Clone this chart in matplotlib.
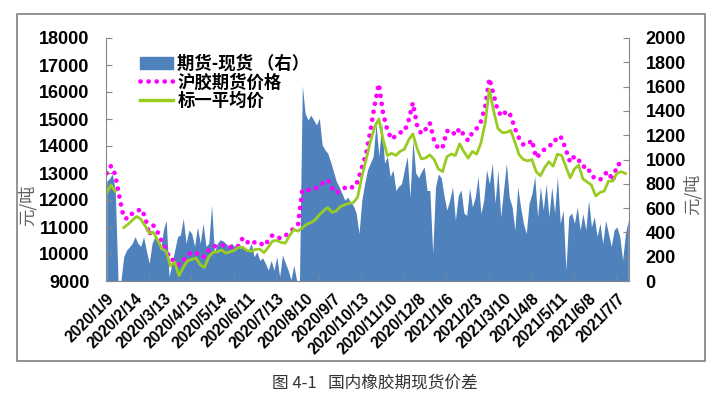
import numpy as np
import matplotlib
matplotlib.use('Agg')
import matplotlib.pyplot as plt
from matplotlib.patches import Patch, Rectangle
from matplotlib.lines import Line2D

# futures - spot spread (right axis), one value every 2 trading days
spread = [820, 845, 880, 750, 0, 0, 200, 255, 280, 310, 365, 310,
          285, 365, 250, 145, 310, 365, 330, 255, 420, 500, 35, 145,
          255, 365, 380, 515, 310, 420, 390, 285, 445, 310, 475, 285,
          310, 625, 230, 310, 340, 330, 310, 285, 310, 285, 310, 270,
          285, 260, 255, 310, 200, 240, 170, 190, 145, 90, 170, 90,
          200, 35, 215, 150, 90, 10, 130, 5, 0, 1610, 1380, 1325,
          1365, 1325, 1285, 1340, 1120, 1080, 1050, 980, 900, 820, 775, 720,
          665, 690, 650, 620, 560, 390, 665, 800, 915, 970, 1025, 1300,
          1025, 1300, 970, 1025, 860, 915, 745, 780, 800, 915, 1025, 690,
          1160, 890, 850, 900, 940, 745, 745, 230, 775, 880, 850, 700,
          585, 665, 775, 500, 700, 750, 560, 540, 765, 610, 690, 860,
          555, 665, 915, 800, 970, 640, 915, 530, 750, 970, 690, 610,
          420, 775, 610, 475, 390, 640, 720, 860, 530, 775, 585, 800,
          530, 775, 560, 860, 475, 585, 90, 530, 560, 475, 610, 420,
          555, 420, 665, 445, 530, 365, 475, 310, 500, 390, 285, 420,
          445, 365, 170, 390, 500]

# 沪胶期货价格, one value every 3 trading days
futures = [12990, 13260, 12950, 12100, 11350, 11300, 11500, 11560, 11670, 11400,
           10700, 11050, 10800, 10450, 10150, 9780, 9780, 9600, 9750, 9950,
           10070, 10050, 9900, 9900, 10150, 10280, 10300, 10320, 10320, 10270,
           10220, 10300, 10600, 10450, 10350, 10460, 10420, 10300, 10500, 10700,
           10620, 10580, 10680, 10800, 10950, 11100, 12370, 12370, 12370, 12420,
           12500, 12650, 12750, 12450, 12250, 12370, 12450, 12520, 12450, 12680,
           13200, 13700, 14550, 15500, 16300, 15200, 14590, 14250, 14380, 14500,
           14530, 14950, 15600, 14750, 14450, 14620, 14850, 14200, 13900, 13950,
           14550, 14590, 14400, 14650, 14400, 14200, 14500, 14650, 14900, 15450,
           16500, 15900, 15280, 15100, 15300, 15130, 14650, 14280, 14050, 14050,
           14220, 13560, 13720, 13880, 14020, 14050, 14360, 14300, 13850, 13400,
           13620, 13480, 13230, 13250, 12900, 12790, 12740, 12950, 13050, 12700,
           13300, 13360, 13300]

# 标一平均价, same sampling (nan = no spot quote over the holiday)
spot = [12250, 12560, 12320, np.nan, 10980, 11100, 11250, 11390, 11300, 11050,
        10780, 10800, 10500, 10200, 10090, 9560, 9700, 9200, 9500, 9750,
        9800, 9850, 9600, 9500, 9900, 10060, 10080, 10150, 10030, 10080,
        10130, 10250, 10250, 10130, 10100, 10170, 10180, 10050, 10250, 10480,
        10500, 10430, 10400, 10680, 10900, 10850, 10970, 11100, 11160, 11260,
        11450, 11600, 11720, 11540, 11600, 11760, 11820, 11880, 11900, 12100,
        12860, 13500, 14150, 14700, 15000, 14250, 13650, 13730, 13650, 13800,
        13880, 14220, 14450, 13900, 13520, 13560, 13670, 13500, 13150, 13050,
        13600, 13700, 13650, 14080, 13790, 13550, 13800, 13700, 14100, 14850,
        16100, 15300, 14650, 14500, 14500, 14580, 14150, 13670, 13500, 13450,
        13500, 13050, 12900, 13200, 13420, 13250, 13700, 13650, 13230, 12820,
        13150, 13290, 12780, 12670, 12550, 12150, 12280, 12330, 12700, 12700,
        12990, 13050, 12980]

date_labels = ['2020/1/9', '2020/2/14', '2020/3/13', '2020/4/13', '2020/5/14',
               '2020/6/11', '2020/7/13', '2020/8/10', '2020/9/7', '2020/10/13',
               '2020/11/10', '2020/12/8', '2021/1/6', '2021/2/3', '2021/3/10',
               '2021/4/8', '2021/5/11', '2021/6/8', '2021/7/7']

n_days = 369
label_every = 20
tick_every = 30

legend_names = ['期货-现货 （右）', '沪胶期货价格', '标一平均价']
caption = '图 4-1   国内橡胶期现货价差'

num_font = 'Liberation Sans'
cjk_font = ['Noto Sans CJK SC', 'DejaVu Sans']
axis_gray = '#868686'
blue = '#4F81BD'
pink = '#FF00FF'
green = '#99CC22'


def main():
    fig = plt.figure(figsize=(7.2, 4.08), dpi=100)
    ax = fig.add_axes([106 / 720, 1 - 281 / 408, 523 / 720, 243 / 408])
    ax2 = ax.twinx()
    ax.set_zorder(ax2.get_zorder() + 1)
    ax.patch.set_visible(False)

    x_spread = np.arange(len(spread)) * 2
    x_price = np.arange(len(futures)) * 3

    ax2.fill_between(x_spread, 0, spread, color=blue, lw=0)
    ax.plot(x_price, futures, color=pink, lw=3.4, linestyle=(0, (0.01, 1.7)),
            dash_capstyle='round')
    ax.plot(x_price, spot, color=green, lw=2)

    ax.set_xlim(-0.5, n_days - 0.5)
    ax.set_ylim(9000, 18000)
    ax2.set_ylim(0, 2000)

    ax.set_yticks(np.arange(9000, 18001, 1000))
    ax2.set_yticks(np.arange(0, 2001, 200))
    for lab in ax.get_yticklabels() + ax2.get_yticklabels():
        lab.set_fontfamily(num_font)
        lab.set_fontweight('bold')
        lab.set_fontsize(13)
    ax.tick_params(axis='y', direction='in', length=4, color=axis_gray, pad=12)
    ax2.tick_params(axis='y', direction='in', length=4, color=axis_gray, pad=12)

    ax.set_xticks(np.arange(len(date_labels)) * label_every)
    ax.set_xticklabels(date_labels, rotation=45, ha='right', va='top',
                       rotation_mode='anchor', fontfamily=num_font,
                       fontweight='bold', fontsize=11.3)
    ax.set_xticks(np.arange(0, n_days, tick_every) - 0.5, minor=True)
    ax.tick_params(axis='x', which='major', length=0, pad=7)
    ax.tick_params(axis='x', which='minor', direction='in', length=4, color=axis_gray)
    ax2.tick_params(axis='x', which='both', length=0)

    for s in ['top', 'right']:
        ax.spines[s].set_visible(False)
    for s in ['top', 'left', 'bottom']:
        ax2.spines[s].set_visible(False)
    ax.spines['left'].set_color(axis_gray)
    ax.spines['bottom'].set_color(axis_gray)
    ax2.spines['right'].set_color(axis_gray)

    ax.set_ylabel('元/吨', fontfamily=cjk_font, fontsize=12.5, color='#606060')
    ax.yaxis.set_label_coords(-0.132, 0.31)
    ax2.set_ylabel('元/吨', fontfamily=cjk_font, fontsize=12.5, color='#606060',
                   rotation=90)
    ax2.yaxis.set_label_coords(1.104, 0.355)

    handles = [Patch(color=blue),
               Line2D([], [], color=pink, lw=3.4, linestyle=(0, (0.01, 1.7)),
                      dash_capstyle='round'),
               Line2D([], [], color=green, lw=2.5)]
    ax.legend(handles, legend_names, loc='upper left',
              bbox_to_anchor=(0.065, 0.93), frameon=False,
              prop={'family': cjk_font, 'weight': 'bold', 'size': 12.5},
              handlelength=1.9, handletextpad=0.25, labelspacing=0.02,
              borderpad=0, borderaxespad=0)

    fig.add_artist(Rectangle((17 / 720, 1 - 361 / 408), 688 / 720, 347 / 408,
                             transform=fig.transFigure, fill=False,
                             ec='#808080', lw=1.2))
    fig.text(0.52, 1 - 383 / 408, caption, ha='center', va='center',
             fontfamily=cjk_font, fontsize=12, color='#333333')

    fig.savefig('out.png', dpi=100)


if __name__ == "__main__":
    main()
